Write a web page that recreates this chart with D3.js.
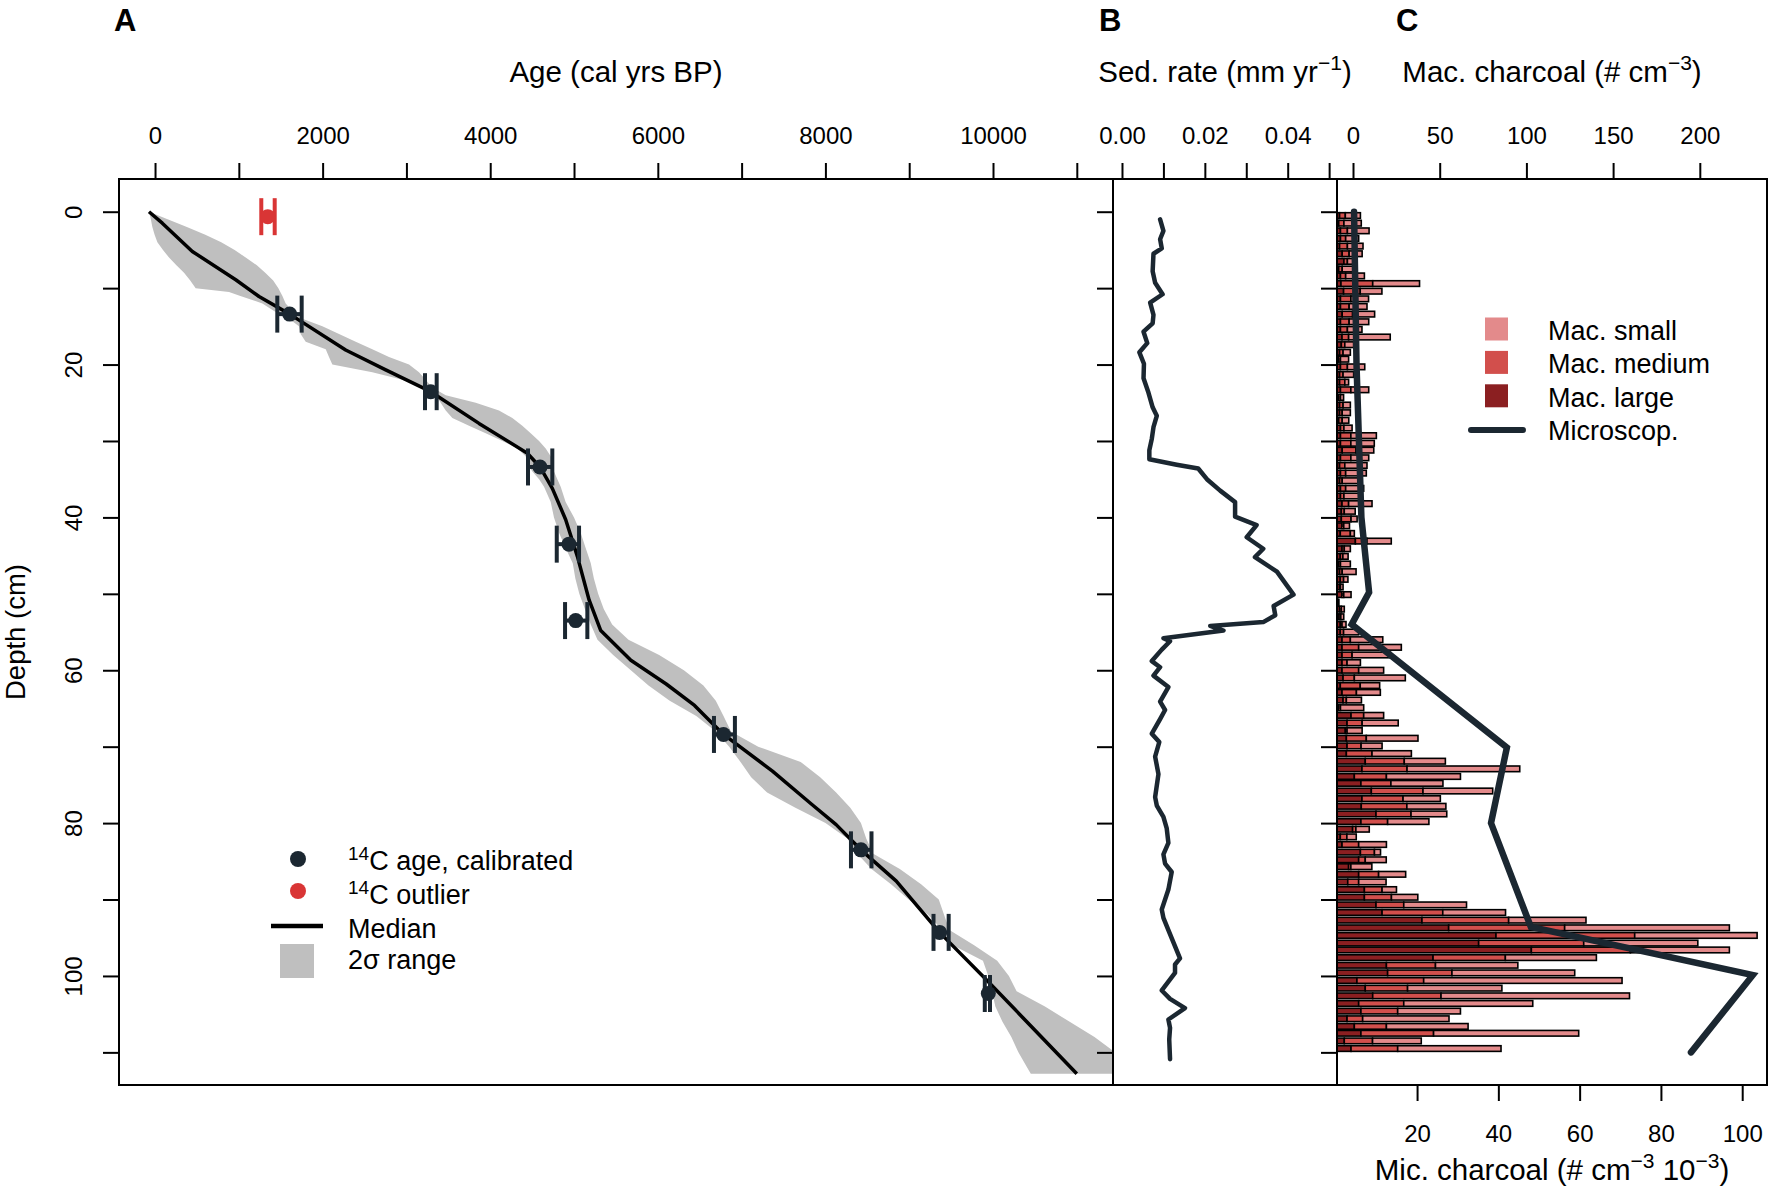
<!DOCTYPE html>
<html>
<head>
<meta charset="utf-8">
<script src="https://cdn.jsdelivr.net/npm/d3@7"></script>
<style>
body { margin: 0; background: #fff; }
text { font-family: "Liberation Sans", Arial, sans-serif; fill: #000; white-space: pre; }
</style>
</head>
<body>
<script>
// ---- panel A: age-depth model ----
var rangeDepth = [0,1,2,3,4,5,6,7,8,9,10,10.5,11,12,13,14,15,16,17,18,19,20,21,22,23,24,25,26,27,28,29,30,31,32,33,34,35,36,
  38,40,42,44,46,48,50,52,54,56,58,60,62,64,66,68,70,72,74,76,78,80,82,84,86,88,90,92,94,96,98,100,102,104,106,108,110,112,112.8];
var rangeMin = [-72,-50,-32,-5,28,95,167,255,346,420,485,883,1010,1281,1420,1599,1718,1738,1798,2037,2076,2116,2593,2951,3190,3349,3409,3469,3548,3747,3946,4145,4324,4423,4443,4503,4583,4642,
  4722,4761,4821,4900,4985,5016,5063,5130,5200,5280,5467,5678,5889,6142,6459,6692,6852,6987,7114,7304,7642,8001,8262,8381,8550,8783,8994,9225,9395,9521,9880,9944,9987,10028,10113,10219,10303,10409,10451];
var rangeMax = [-72,150,380,600,790,950,1082,1215,1315,1410,1472,1495,1519,1559,1639,1758,1997,2196,2395,2593,2792,3031,3150,3230,3309,3469,3827,4105,4264,4383,4483,4583,4662,4722,4741,4761,4801,4841,
  4900,5000,5079,5139,5200,5237,5288,5355,5455,5650,6016,6311,6544,6692,6784,6873,7198,7705,7938,8128,8297,8424,8487,8571,8888,9142,9353,9416,9480,9775,10050,10190,10282,10620,10915,11211,11456,11700,11750];

var medAge = [-72,87,445,963,1241,1607,2275,2753,3290,3866,4443,4594,4741,4901,5040,5180,5319,5678,6100,6438,6784,7368,7832,8128,8424,8846,9362,9903,10325,11000];
var medDepth = [0,1.5,5.2,8.9,11.1,13.4,18.1,20.7,23.55,27.7,31.6,33.4,36.2,40.3,45.1,50.8,54.8,58.7,61.8,64.6,68.4,73.2,77.5,80.2,83.5,87.6,94.3,100.3,105.1,112.8];

var dateAge   = [1607,3290,4594,4940,5020,6784,8424,9362,9944];
var dateDepth = [13.4,23.55,33.4,43.5,53.5,68.4,83.5,94.3,102.3];
var dateMin   = [1459,3222,4451,4794,4893,6670,8305,9290,9902];
var dateMax   = [1750,3361,4741,5060,5159,6920,8550,9471,9964];

var outAge = [1345], outDepth = [0.65], outMin = [1268], outMax = [1428];

// ---- panel B: sedimentation rate ----
var sedDepth = [1.0,2.5,3.6,4.8,5.5,7.8,9.3,10.8,11.9,13.5,14.6,15.7,17.2,18.4,19.9,21.8,23.7,25.6,26.7,28.2,29.7,31.2,32.4,33.1,33.6,
  35.0,36.5,38.0,39.9,41.0,42.6,44.1,45.2,47.1,50.1,51.6,52.8,53.7,54.2,54.8,55.8,56.2,57.3,58.8,59.6,60.7,62.2,64.1,65.2,66.4,
  68.3,69.4,71.3,73.6,76.6,77.7,79.2,80.7,82.6,84.1,85.3,86.4,88.7,91.3,92.4,94.0,97.7,98.5,99.6,101.9,103.0,104.2,105.7,106.8,108.3,110.9];
var sedRate = [0.0092,0.0100,0.0092,0.0096,0.0076,0.0074,0.0080,0.0098,0.0068,0.0076,0.0074,0.0052,0.0061,0.0042,0.0053,0.0052,0.0064,0.0074,0.0084,0.0076,
  0.0072,0.0066,0.0066,0.0132,0.0184,0.0205,0.0237,0.0273,0.0273,0.0325,0.0301,0.0341,0.0321,0.0374,0.0414,0.0366,0.0370,0.0341,0.0213,0.0245,
  0.0100,0.0116,0.0096,0.0072,0.0092,0.0076,0.0112,0.0092,0.0104,0.0092,0.0072,0.0090,0.0080,0.0088,0.0080,0.0084,0.0100,0.0108,0.0112,0.0100,
  0.0104,0.0120,0.0112,0.0096,0.0100,0.0112,0.0140,0.0128,0.0128,0.0096,0.0116,0.0152,0.0112,0.0116,0.0114,0.0116];

// ---- panel C: charcoal ----
var barDepth = [0.5,1.5,2.5,3.5,4.5,5.5,6.5,7.5,8.4,9.4,10.4,11.4,12.4,13.4,14.4,15.4,16.4,17.4,18.4,19.3,20.3,21.3,22.3,23.3,24.3,25.3,26.3,27.3,28.3,29.3,
  30.3,31.2,32.2,33.2,34.2,35.2,36.2,37.2,38.2,39.2,40.2,41.1,42.1,43.1,44.1,45.1,46.1,47.1,48.1,49.1,50.1,51.1,52.0,53.0,54.0,55.0,56.0,57.0,58.0,59.0,
  60.0,61.0,62.0,62.9,63.9,64.9,65.9,66.9,67.9,68.9,69.9,70.9,71.9,72.9,73.9,74.8,75.8,76.8,77.8,78.8,79.8,80.8,81.8,82.8,83.8,84.8,85.7,86.7,87.7,88.7,
  89.7,90.7,91.7,92.7,93.7,94.7,95.7,96.6,97.6,98.6,99.6,100.6,101.6,102.6,103.6,104.6,105.6,106.6,107.5,108.5,109.5];
var macLarge = [1.5,1,2,2,1.5,3,4,1,2,2.3, 3.8,2,2,3,2,2,2.9,2.5,1.5,1, 2,1.5,1.5,2,1,1.5,1.5,1,2,2, 2,3,2,1.5,2,1.5,2,2,2.9,2.5,
  2.5,2.9,1.9,10.6,2.9,1.9,1,1.5,1.9,1.5, 2.9,0.3,1.5,1.2,1.9,1.9,2.9,2.9,2.9,2.9, 2.9,3.5,1.9,2.9,3.5,1,8.1,5.8,4.8,5.4,
  5.8,5.4,16.3,14.4,10,13.8,19.8,14.4,14,22.5, 13.8,9,1.9,2.9,13.5,12.5,6.7,12.5,6.2,15.8, 15.8,22.5,26,49,64.4,91.7,81.7,112.1,55.4,28.5,
  29.2,11.5,16.3,20.6,12.5,13.8,5.8,10,13.8,4.2,8.1];
var macMedium = [3.3,3,4,3,4.5,4,2,2,3,18.3, 9.6,6,5,6,5,4,3.8,2,2,1, 4,2,3,6,1,2,1.5,2,2,6, 6,8,6,3,3,1.5,3,2,3.8,1.7,
  5.6,1,5.8,6.7,1.3,1.5,1,1.5,1.9,0.5, 1,0.3,1,1,1,1.9,4.8,9.6,5.8,2.9, 9.6,6.5,11.5,8.3,1.9,1,7.3,8.7,1,11.5,
  8.1,14.8,22.5,26,18.5,17.3,29.8,23.7,26.3,20.2, 15.4,1.9,3.8,9.6,8.1,3.8,1.3,11.5,6.3,10.2, 15.6,16,35,50,66.9,80,60.6,57.1,41.7,28.3,
  37.1,38.5,24.4,39.4,26,21.2,9,18.5,41.9,16.3,26.9];
var macSmall = [8.7,10,12.5,7.5,9,7.5,4,6.6,10.8,27, 12.5,10.2,10.3,12.7,11.3,8.4,24,5.1,4.2,4.7, 10,6.1,2.2,10.3,1.8,4.2,4.7,3.8,4.7,14.7,
  13.5,10.2,10.3,12.8,11.9,10.5,10.4,9.5,13.5,6.3, 3.5,3.3,2.3,14,3.5,3,5.7,8,2.5,1.5, 4.2,0.5,1.7,1.7,2.3,8.7,18.7,24.6,22.1,7.7,
  14.4,29.4,11.2,13.8,8.7,13.4,11.5,20.8,8.7,29.8, 12.1,22.7,23.7,65,42.7,30,40.2,21.5,22.5,20.6, 23.8,7.7,5.4,16,3.5,12.1,12.1,15.6,15.8,8.3,
  15.2,36.2,36.2,44.6,95,70.6,65.8,57.1,52.5,47.5, 70.8,114.4,54.4,108.7,74.4,36.2,49.8,47.1,83.7,28.1,59.6];

var micDepth = [0,20,40,49.8,54,70.1,80,93.6,99.9,110];
var micVal   = [4.5,5.1,6.3,8.2,3.9,42.1,38.2,48.0,102.6,87.4];

var ageTicks = d3.range(0, 11001, 1000);
var sedTicks = [0, 0.01, 0.02, 0.03, 0.04, 0.05];
var macTicks = [0, 50, 100, 150, 200];
var micTicks = [20, 40, 60, 80, 100];
var depthTicks = d3.range(0, 111, 10);

var dark = "#1b2731", red = "#d93535", grey = "#bfbfbf";
var colSmall = "#e38a8b", colMed = "#d24f4c", colLarge = "#8b1f21";

var top0 = 179, bot0 = 1085;
var A = {l:119, r:1113}, B = {l:1113, r:1337}, C = {l:1337, r:1767};

var y = d3.scaleLinear().domain([-4.28, 114.27]).range([top0, bot0]);
var xAge = d3.scaleLinear().domain([-430, 11432]).range([A.l, A.r]);
var xSed = d3.scaleLinear().domain([-0.00217, 0.0519]).range([B.l, B.r]);
var xMac = d3.scaleLinear().domain([-9.23, 238.75]).range([C.l, C.r]);
var xBar = d3.scaleLinear().domain([0, 248]).range([C.l, C.r]);
var xMic = d3.scaleLinear().domain([0.3, 106.1]).range([C.l, C.r]);

var svg = d3.select("body").append("svg").attr("width", 1772).attr("height", 1199);

svg.append("clipPath").attr("id", "clipA").append("rect")
  .attr("x", A.l).attr("y", top0).attr("width", A.r - A.l).attr("height", bot0 - top0);

// ---- panel A ----
var band = rangeDepth.map(function(d, i) { return {d: d, lo: rangeMin[i], hi: rangeMax[i]}; });
var area = d3.area()
  .y(function(p) { return y(p.d); })
  .x0(function(p) { return xAge(p.lo); })
  .x1(function(p) { return xAge(p.hi); });
var gA = svg.append("g").attr("clip-path", "url(#clipA)");
gA.append("path").attr("d", area(band)).attr("fill", grey);

var medLine = d3.line().x(function(d) { return xAge(d[0]); }).y(function(d) { return y(d[1]); });
gA.append("path").attr("d", medLine(d3.zip(medAge, medDepth)))
  .attr("fill", "none").attr("stroke", "#000").attr("stroke-width", 3.5).attr("stroke-linejoin", "round");

function dates(age, depth, lo, hi, col) {
  age.forEach(function(a, i) {
    var g = gA.append("g").attr("stroke", col).attr("stroke-width", 4);
    var yy = y(depth[i]);
    g.append("line").attr("x1", xAge(lo[i])).attr("x2", xAge(hi[i])).attr("y1", yy).attr("y2", yy);
    [lo[i], hi[i]].forEach(function(v) {
      g.append("line").attr("x1", xAge(v)).attr("x2", xAge(v)).attr("y1", yy - 18.5).attr("y2", yy + 18.5);
    });
    g.append("circle").attr("cx", xAge(a)).attr("cy", yy).attr("r", 7.5).attr("fill", col).attr("stroke", "none");
  });
}
dates(outAge, outDepth, outMin, outMax, red);
dates(dateAge, dateDepth, dateMin, dateMax, dark);

// ---- panel B ----
var sedLine = d3.line().x(function(d) { return xSed(d[1]); }).y(function(d) { return y(d[0]); });
svg.append("path").attr("d", sedLine(d3.zip(sedDepth, sedRate)))
  .attr("fill", "none").attr("stroke", dark).attr("stroke-width", 4.5).attr("stroke-linejoin", "round").attr("stroke-linecap", "round");

// ---- panel C ----
var gBars = svg.append("g").attr("stroke", "#000").attr("stroke-width", 1.6);
barDepth.forEach(function(d, i) {
  var segs = [[macLarge[i], colLarge], [macMedium[i], colMed], [macSmall[i], colSmall]];
  var start = 0;
  segs.forEach(function(s) {
    gBars.append("rect")
      .attr("x", xBar(start)).attr("width", xBar(start + s[0]) - xBar(start))
      .attr("y", y(d - 0.37)).attr("height", y(d + 0.37) - y(d - 0.37))
      .attr("fill", s[1]);
    start += s[0];
  });
});

var micLine = d3.line().x(function(d) { return xMic(d[1]); }).y(function(d) { return y(d[0]); });
svg.append("path").attr("d", micLine(d3.zip(micDepth, micVal)))
  .attr("fill", "none").attr("stroke", dark).attr("stroke-width", 6.5).attr("stroke-linecap", "round");

// ---- boxes and axes ----
[A, B, C].forEach(function(p) {
  svg.append("rect").attr("x", p.l).attr("y", top0).attr("width", p.r - p.l).attr("height", bot0 - top0)
    .attr("fill", "none").attr("stroke", "#000").attr("stroke-width", 2);
});

function styleAxis(g) {
  g.attr("font-size", 24).attr("font-family", "'Liberation Sans', Arial, sans-serif");
  g.select(".domain").remove();
  g.selectAll(".tick line").attr("stroke-width", 2);
  return g;
}

styleAxis(svg.append("g").attr("transform", "translate(0," + top0 + ")")
  .call(d3.axisTop(xAge).tickValues(ageTicks).tickSize(16).tickPadding(19)
    .tickFormat(function(d) { return d % 2000 === 0 ? d : ""; })));
styleAxis(svg.append("g").attr("transform", "translate(0," + top0 + ")")
  .call(d3.axisTop(xSed).tickValues(sedTicks).tickSize(16).tickPadding(19)
    .tickFormat(function(d, i) { return i % 2 === 0 ? d3.format(".2f")(d) : ""; })));
styleAxis(svg.append("g").attr("transform", "translate(0," + top0 + ")")
  .call(d3.axisTop(xMac).tickValues(macTicks).tickSize(16).tickPadding(19)));
var gBot = styleAxis(svg.append("g").attr("transform", "translate(0," + bot0 + ")")
  .call(d3.axisBottom(xMic).tickValues(micTicks).tickSize(16)));
gBot.selectAll("text").attr("y", 57).attr("dy", 0);

[A, B, C].forEach(function(p, k) {
  var g = styleAxis(svg.append("g").attr("transform", "translate(" + p.l + ",0)")
    .call(d3.axisLeft(y).tickValues(depthTicks).tickSize(16)
      .tickFormat(function(d) { return k === 0 && d % 20 === 0 ? d : ""; })));
  g.selectAll("text").attr("x", 0).attr("dy", 0).attr("text-anchor", "middle")
    .attr("transform", "translate(-37,0) rotate(-90)");
});

// ---- titles ----
function title(x, yy, parts, size, rot) {
  var t = svg.append("text").attr("x", x).attr("y", yy).attr("text-anchor", "middle").attr("font-size", size);
  if (rot) t.attr("transform", "rotate(-90," + x + "," + yy + ")");
  var shift = 0;
  parts.forEach(function(p) {
    var sup = Array.isArray(p);
    var ts = t.append("tspan").text(sup ? p[0] : p);
    var target = sup ? -Math.round(size * 0.4) : 0;
    if (target !== shift) { ts.attr("dy", target - shift); shift = target; }
    if (sup) ts.attr("font-size", Math.round(size * 0.7));
  });
  return t;
}
title(616, 82, ["Age (cal yrs BP)"], 29.5);
title(1225, 82, ["Sed. rate (mm yr", ["\u22121"], ")"], 29.5);
title(1552, 82, ["Mac. charcoal (# cm", ["\u22123"], ")"], 29.5);
title(1552, 1180, ["Mic. charcoal (# cm", ["\u22123"], " 10", ["\u22123"], ")"], 29.5);
title(25, 632, ["Depth (cm)"], 27.5, true);

[["A", 114], ["B", 1099], ["C", 1396]].forEach(function(p) {
  svg.append("text").attr("x", p[1]).attr("y", 31).attr("font-size", 31).attr("font-weight", "bold").text(p[0]);
});

// ---- legend A ----
var legA = svg.append("g");
legA.append("circle").attr("cx", 298).attr("cy", 859).attr("r", 8).attr("fill", dark);
legA.append("circle").attr("cx", 298).attr("cy", 891).attr("r", 8).attr("fill", red);
legA.append("line").attr("x1", 271).attr("x2", 323).attr("y1", 926).attr("y2", 926)
  .attr("stroke", "#000").attr("stroke-width", 4.5);
legA.append("rect").attr("x", 280).attr("y", 944).attr("width", 34).attr("height", 34).attr("fill", grey);
function legText(x, yy, parts) {
  var t = legA.append("text").attr("x", x).attr("y", yy).attr("font-size", 27);
  var shift = 0;
  parts.forEach(function(p) {
    var sup = Array.isArray(p);
    var ts = t.append("tspan").text(sup ? p[0] : p);
    var target = sup ? -10 : 0;
    if (target !== shift) { ts.attr("dy", target - shift); shift = target; }
    if (sup) ts.attr("font-size", 19);
  });
}
legText(348, 870, [["14"], "C age, calibrated"]);
legText(348, 904, [["14"], "C outlier"]);
legText(348, 937.5, ["Median"]);
legText(348, 969, ["2\u03c3 range"]);

// ---- legend C ----
var legC = svg.append("g");
var legItems = [["Mac. small", colSmall], ["Mac. medium", colMed], ["Mac. large", colLarge]];
legItems.forEach(function(it, i) {
  var cy = 329 + i * 33.4;
  legC.append("rect").attr("x", 1485).attr("y", cy - 11.5).attr("width", 23).attr("height", 23).attr("fill", it[1]);
  legC.append("text").attr("x", 1548).attr("y", cy + 11).attr("font-size", 27).text(it[0]);
});
legC.append("line").attr("x1", 1471).attr("x2", 1523).attr("y1", 430).attr("y2", 430)
  .attr("stroke", dark).attr("stroke-width", 6).attr("stroke-linecap", "round");
legC.append("text").attr("x", 1548).attr("y", 440).attr("font-size", 27).text("Microscop.");
</script>
</body>
</html>
